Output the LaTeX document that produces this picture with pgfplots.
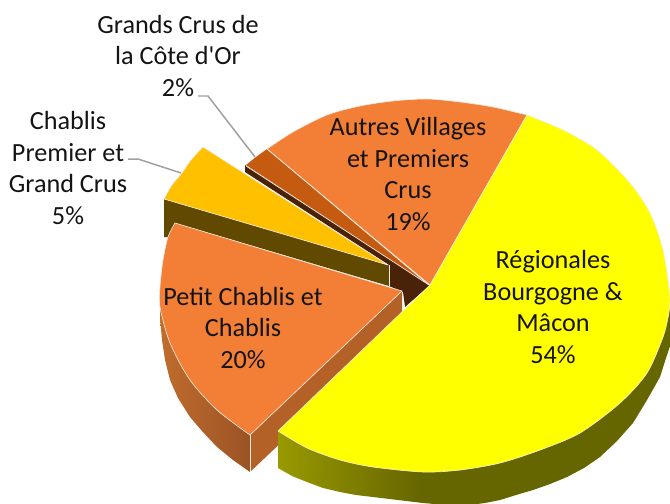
\documentclass[border=0pt]{standalone}
\usepackage{fontspec}
\newfontfamily\carlito{Carlito}
\usepackage{pgfplots}
\pgfplotsset{compat=1.18}
\definecolor{cOr}{HTML}{F27F35}
\definecolor{cBrown}{HTML}{4A2207}
\definecolor{cGold}{HTML}{FFC000}
\definecolor{cGoldS}{HTML}{614A00}
\definecolor{cGC}{HTML}{C55A11}
\definecolor{cPS}{HTML}{B46128}
\definecolor{cEdge}{HTML}{F2EDE6}
\definecolor{cLead}{HTML}{A0A0A0}
\definecolor{cYel}{rgb}{1,1,0}
\definecolor{cYa}{rgb}{0.6,0.6,0}
\definecolor{cYb}{rgb}{0.4,0.4,0}
\definecolor{cOa}{HTML}{C06D2D}
\definecolor{cOb}{HTML}{9B5325}
\pgfdeclarehorizontalshading{yside}{100bp}{color(0bp)=(cYa); color(25bp)=(cYa); color(43bp)=(cYb); color(100bp)=(cYb)}
\pgfdeclarehorizontalshading{oside}{100bp}{color(0bp)=(cOa); color(25bp)=(cOa); color(75bp)=(cOb); color(100bp)=(cOb)}
\tikzset{lab/.style={align=center,anchor=center,text=black!92,font=\carlito\fontsize{26.3}{32.1}\selectfont}}
% slice: colour; radial edges (arc end, tip, arc start); arc points
\newcommand{\slice}[3]{%
  \addplot[fill=#1,draw=none,sharp plot] coordinates {#3 #2};
  \addplot[fill=#1,draw=cEdge,line width=0.6pt,smooth] coordinates {#3};
  \addplot[draw=cEdge,line width=0.6pt,sharp plot,line join=round] coordinates {#2};
}
\begin{document}
\begin{tikzpicture}
\begin{axis}[
  name=ax,
  width=670bp,height=503bp,scale only axis,
  xmin=0,xmax=670,ymin=0,ymax=503,y dir=reverse,
  axis lines=none,
]
% interior brown
\addplot[fill=cBrown,draw=none,sharp plot] coordinates {(245,165)(245,172)(389,265)(389,286)(403,292)(405,307)(430,285)};
% gold side
\addplot[fill=cGoldS,draw=none,sharp plot] coordinates {(164,199)(388,265)(389,265)(389,286)(175,223)(168,237)(164,237)};
\addplot[draw=cEdge,line width=0.7pt,sharp plot] coordinates {(389,265)(389,286)};
% gold top
\slice{cGold}{(203,147)(388,265)(164,199)}{(164,199)(172,185)(182,173)(191,160)(203,147)}
% Autres Villages
\slice{cOr}{(527,115)(430,285)(267,149)}{(267,149)(293,132)(327,115)(360,106)(393,101)(427,99)(460,102)(493,107)(527,115)}
% Grands Crus
\addplot[fill=cGC,draw=none,sharp plot] coordinates {(429,285)(246,165)(256,157)(267,149)};
\addplot[draw=cEdge,line width=0.7pt,sharp plot] coordinates {(267,149)(429,285)};
\addplot[draw=cEdge,line width=0.7pt,sharp plot] coordinates {(246,166)(429,285)};
% Petit Chablis sides
\addplot[shading=oside,draw=none,sharp plot] coordinates {(160,300)(160,318)(162,340)(165,360)(170,380)(178,398)(190,417)(202,431)(217,447)(233,460)(250,472)(250,435)(217,405)(190,375)(170,340)};
\addplot[fill=cPS,draw=none,sharp plot] coordinates {(250,435)(402,291)(402,328)(250,472)};
\addplot[draw=cEdge,line width=0.5pt,sharp plot] coordinates {(250,435)(250,472)};
% Petit Chablis top
\slice{cOr}{(250,435)(402,291)(175,223)}{(175,223)(168,237)(163,260)(160,287)(160,307)(170,343)(190,380)(217,410)(250,435)}
% yellow side
\addplot[shading=yside,draw=none,sharp plot] coordinates {(278,431)(278,468)(292,476)(307,482)(323,488)(340,492)(356,495)(373,497)(398,500)(423,503)(446,505)(470,505)(485,503)(500,500)(516,495)(533,490)(550,484)(567,477)(584,468)(600,457)(617,441)(633,423)(647,400)(660,377)(666,358)(672,340)(672,300)(600,400)(423,460)(373,460)(307,445)};
% yellow top
\addplot[fill=cYel,draw=none,sharp plot] coordinates {(278,431)(307,448)(340,460)(373,467)(423,472)(460,470)(500,463)(540,450)(580,433)(620,403)(647,373)(663,337)(668,317)(670,297)(663,250)(650,213)(630,183)(597,150)(563,130)(527,115)(430,285)};
\addplot[fill=cYel,draw=cEdge,line width=0.6pt,smooth] coordinates {(278,431)(307,448)(340,460)(373,467)(423,472)(460,470)(500,463)(540,450)(580,433)(620,403)(647,373)(663,337)(668,317)(670,297)};
\addplot[fill=cYel,draw=cEdge,line width=0.6pt,smooth] coordinates {(668,317)(670,297)(663,250)(650,213)(630,183)(597,150)(563,130)(527,115)};
\addplot[draw=cEdge,line width=0.6pt,sharp plot,line join=round] coordinates {(527,115)(430,285)(278,431)};
% leaders
\addplot[draw=cLead,line width=1.5pt,sharp plot] coordinates {(198,96)(208,96)(255,157)};
\addplot[draw=cLead,line width=1.5pt,sharp plot] coordinates {(128,159)(138,159)(181,173)};
% labels
\node[lab] at (axis cs:178,56) {Grands Crus de\\la Côte d'Or\\2\%};
\node[lab] at (axis cs:68,168) {Chablis\\Premier et\\Grand Crus\\5\%};
\node[lab] at (axis cs:408,174) {Autres Villages\\et Premiers\\Crus\\19\%};
\node[lab] at (axis cs:243,328) {Petit Chablis et\\Chablis\\20\%};
\node[lab] at (axis cs:553,307) {Régionales\\Bourgogne \&\\Mâcon\\54\%};
\end{axis}
\pgfresetboundingbox
\path[use as bounding box] (ax.south west) rectangle (ax.north east);
\end{tikzpicture}
\end{document}
